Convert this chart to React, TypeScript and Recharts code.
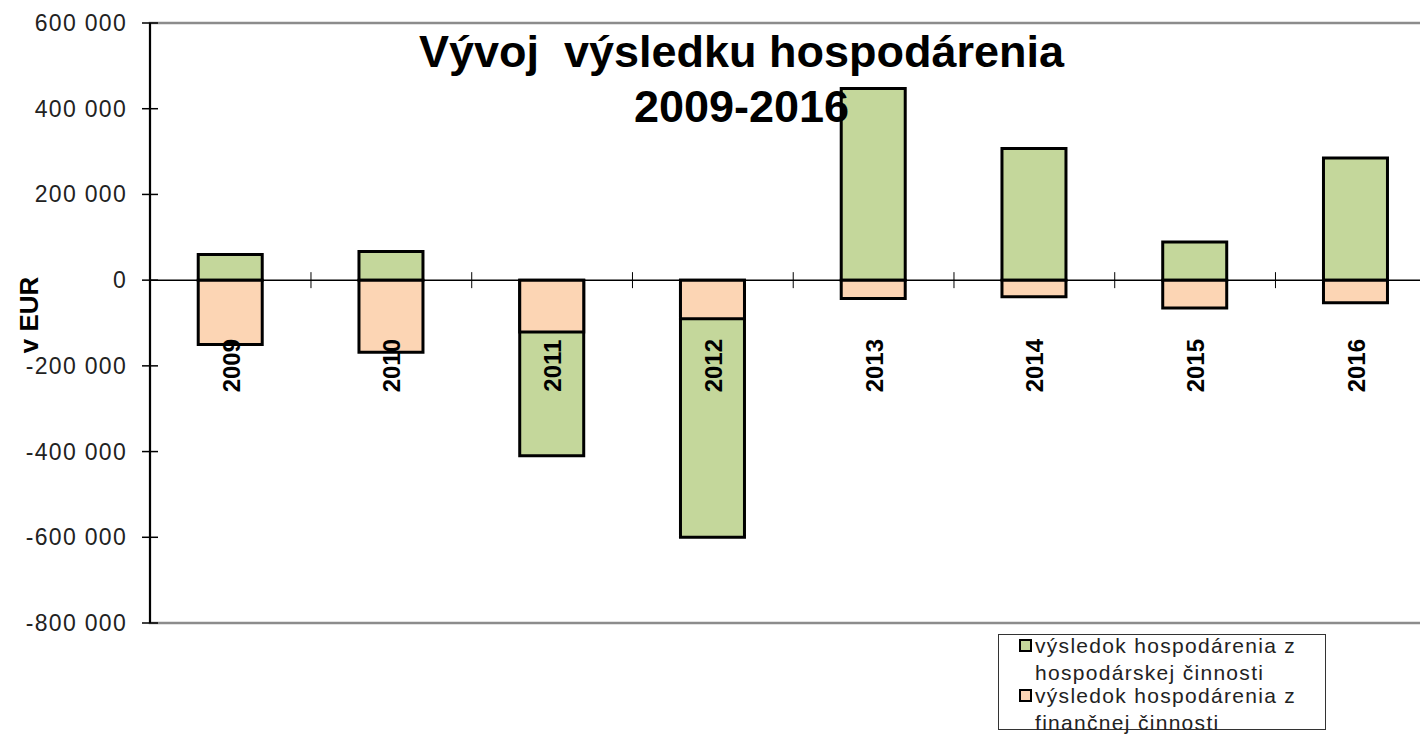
import React from 'react';
import { BarChart, Bar, XAxis, YAxis, ReferenceLine, ReferenceArea, LabelList } from 'recharts';

const YEARS = ['2009', '2010', '2011', '2012', '2013', '2014', '2015', '2016'];
const HOSPODARSKA = [60000, 67000, -410000, -600000, 447000, 307000, 89000, 285000];
const FINANCNA = [-150000, -168000, -121000, -90000, -43000, -39000, -65000, -53000];
const Y_TICKS = [-800000, -600000, -400000, -200000, 0, 200000, 400000, 600000];
const SERIES_NAMES = [
  'výsledok hospodárenia z hospodárskej činnosti',
  'výsledok hospodárenia z finančnej činnosti',
];
const SERIES_COLORS = ['#c4d79b', '#fcd5b4'];
const TITLE_LINES = ['Vývoj  výsledku hospodárenia', '2009-2016'];
const Y_LABEL = 'v EUR';

const FONT = '"Liberation Sans", Arial, sans-serif';
const TICK_SIZE = 8;
const TICK_MARGIN = 15;
const BAR_GAP = 0.3; // each side, as a share of the category width

const data = YEARS.map((year, i) => ({
  year,
  hosp: HOSPODARSKA[i],
  fin: FINANCNA[i],
}));

const fmt = (v: number) => {
  const s = Math.abs(v).toString().replace(/\B(?=(\d{3})+(?!\d))/g, ' ');
  return (v < 0 ? '-' : '') + s;
};

const YTick = (props: any) => {
  const { x, y, payload } = props;
  const axisX = x + TICK_SIZE + TICK_MARGIN;
  return (
    <g>
      <line x1={axisX - TICK_SIZE} x2={axisX + TICK_SIZE} y1={y} y2={y} stroke="#000" strokeWidth={1.5} />
      <text
        x={x}
        y={y}
        textAnchor="end"
        dominantBaseline="central"
        fontFamily={FONT}
        fontSize={23}
        letterSpacing={1.3}
        fill="#222"
      >
        {fmt(payload.value)}
      </text>
    </g>
  );
};

// year labels sit under the zero line, plus the small category separators on it
const YearLabel = (props: any) => {
  const vb = props.viewBox || props;
  const { index, value } = props;
  const cx = vb.x + vb.width / 2;
  const zeroY = Math.min(vb.y, vb.y + vb.height);
  const band = vb.width / (1 - 2 * BAR_GAP);
  return (
    <g>
      {index > 0 && (
        <line x1={cx - band / 2} x2={cx - band / 2} y1={zeroY - 8} y2={zeroY + 8} stroke="#000" strokeWidth={1} />
      )}
      <text
        transform={`translate(${cx + 9.5}, ${zeroY + 85.5}) rotate(-90)`}
        textAnchor="middle"
        fontFamily={FONT}
        fontSize={24}
        fontWeight={700}
        fill="#000"
      >
        {value}
      </text>
    </g>
  );
};

const AxisTitle = () => (
  <text
    transform="translate(38, 315) rotate(-90)"
    textAnchor="middle"
    fontFamily={FONT}
    fontSize={26}
    fontWeight={700}
    fill="#000"
  >
    {Y_LABEL}
  </text>
);

const LegendBox = () => (
  <div
    style={{
      position: 'absolute',
      left: 998,
      top: 634,
      width: 328,
      height: 96,
      boxSizing: 'border-box',
      border: '1.5px solid #333',
      background: '#fff',
      fontFamily: FONT,
      fontSize: 21,
      letterSpacing: 1.3,
      color: '#222',
    }}
  >
    {SERIES_NAMES.map((name, i) => (
      <div key={name} style={{ position: 'absolute', left: 20, top: i === 0 ? -3 : 47, width: 300, lineHeight: '27px' }}>
        <div
          style={{
            position: 'absolute',
            left: 0,
            top: 7,
            width: 13,
            height: 13,
            boxSizing: 'border-box',
            border: '2px solid #000',
            background: SERIES_COLORS[i],
          }}
        />
        <div style={{ marginLeft: 16, width: 284 }}>{name}</div>
      </div>
    ))}
  </div>
);

export default function App() {
  return (
    <div style={{ position: 'fixed', left: 0, top: 0, width: 1420, height: 734, overflow: 'hidden', background: '#fff' }}>
      <BarChart
        width={1440}
        height={734}
        data={data}
        margin={{ top: 23, right: 4, bottom: 111, left: 0 }}
        barCategoryGap={`${BAR_GAP * 100}%`}
      >
        <XAxis xAxisId="a" dataKey="year" hide />
        <XAxis xAxisId="b" dataKey="year" hide />
        <YAxis
          domain={[Y_TICKS[0], Y_TICKS[Y_TICKS.length - 1]]}
          ticks={Y_TICKS}
          interval={0}
          width={150}
          tickSize={TICK_SIZE}
          tickMargin={TICK_MARGIN}
          tickLine={false}
          axisLine={{ stroke: '#000', strokeWidth: 2 }}
          tick={<YTick />}
          label={<AxisTitle />}
        />
        <ReferenceArea
          xAxisId="a"
          y1={Y_TICKS[0]}
          y2={Y_TICKS[Y_TICKS.length - 1]}
          fill="none"
          fillOpacity={0}
          stroke="#8c8c8c"
          strokeWidth={2.5}
        />
        <ReferenceLine xAxisId="a" y={0} stroke="#000" strokeWidth={1.5} />
        <Bar
          xAxisId="a"
          dataKey="hosp"
          name={SERIES_NAMES[0]}
          fill={SERIES_COLORS[0]}
          stroke="#000"
          strokeWidth={3}
          isAnimationActive={false}
        />
        <Bar
          xAxisId="b"
          dataKey="fin"
          name={SERIES_NAMES[1]}
          fill={SERIES_COLORS[1]}
          stroke="#000"
          strokeWidth={3}
          isAnimationActive={false}
        >
          <LabelList dataKey="year" content={<YearLabel />} />
        </Bar>
      </BarChart>
      <div
        style={{
          position: 'absolute',
          left: 741.5,
          top: 24,
          transform: 'translateX(-50%)',
          whiteSpace: 'pre',
          textAlign: 'center',
          fontFamily: FONT,
          fontSize: 45,
          fontWeight: 700,
          lineHeight: '55px',
          color: '#000',
        }}
      >
        {TITLE_LINES.map((t) => (
          <div key={t}>{t}</div>
        ))}
      </div>
      <LegendBox />
    </div>
  );
}
